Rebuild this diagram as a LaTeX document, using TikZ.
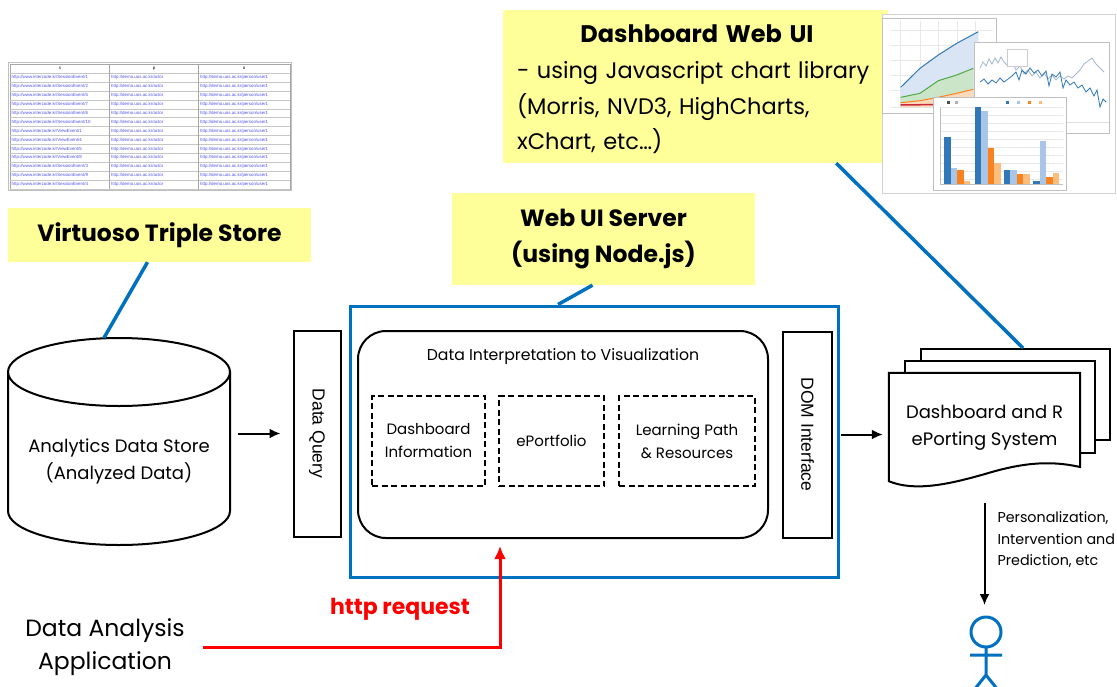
\documentclass[tikz,border=0pt]{standalone}
\usepackage{fontspec}
\setmainfont{Poppins}
\newfontfamily\boxfont{Liberation Sans}
\usetikzlibrary{calc, arrows.meta, positioning}

\definecolor{noteyellow}{RGB}{255,255,153}
\definecolor{uiblue}{RGB}{0,112,192}
\definecolor{linkblue}{RGB}{80,80,235}
\definecolor{c1}{RGB}{49,120,185}
\definecolor{c2}{RGB}{170,198,230}
\definecolor{c3}{RGB}{250,130,30}
\definecolor{c4}{RGB}{253,190,125}
\definecolor{cg}{RGB}{80,170,70}
\definecolor{cr}{RGB}{200,40,60}

\tikzset{note/.style={fill=noteyellow, inner sep=0pt, font=\bfseries\fontsize{23.5}{35.5}\selectfont, align=center},
        vbox/.style={draw, line width=2pt, minimum width=47pt, minimum height=206pt, font=\boxfont\fontsize{17.5}{20}\selectfont},
        dbox/.style={draw, line width=2pt, dash pattern=on 6pt off 3.5pt, minimum height=90pt, align=center, font=\fontsize{15}{23}\selectfont},
        arr/.style={-{Latex[length=11pt, width=10pt]}, line width=2pt},
        link/.style={uiblue, line width=3.5pt},
        page/.style={draw, line width=2pt, fill=white},
        txt/.style={align=center, font=\fontsize{18}{27}\selectfont},
        cell/.style={anchor=west, inner sep=0pt, text=linkblue, font=\boxfont\fontsize{4.4}{5}\selectfont}}

\begin{document}
\begin{tikzpicture}[x=1pt, y=-1pt]
  \useasboundingbox (0,0) rectangle (1117,686);

  % query result table
  \draw[gray!50, fill=white] (8,62) rectangle (291,190);
  \draw[gray!70] (10,64) rectangle (290,189);
  \foreach \k in {0,...,13}
    \draw[gray!45, line width=.8pt] (10,{73.3+8.9*\k}) -- (290,{73.3+8.9*\k});
  \foreach \x in {109.5,198.5}
    \draw[gray!70, line width=1pt] (\x,64) -- (\x,189);
  \foreach \h/\x [count=\i] in {s/60, p/154, o/244}
    \node[inner sep=0pt, font=\boxfont\fontsize{4.4}{5}\selectfont] (hd\i) at (\x,68.7) {\h};
  \foreach \e/\n [count=\i] in {Session/1, Session/2, Session/5, Session/7, Session/6, Session/10, View/1, View/4, View/5, View/8, Session/3, Session/9, Session/4} {
    \node[cell] (sc\i) at (11.5,{73.3+8.9*\i-4.45}) {http://www.intercode.kr/\e Event/\n};
    \node[cell] (pc\i) at (111,{73.3+8.9*\i-4.45}) {http://demo.uos.ac.kr/actor};
    \node[cell] (oc\i) at (200,{73.3+8.9*\i-4.45}) {http://demo.uos.ac.kr/person/user1};
  }

  % data store
  \node[note, minimum width=303, minimum height=54] (triple) at (159.5,235) {Virtuoso Triple Store};
  \node[minimum width=222, minimum height=207, inner sep=0pt] (store) at (119,441.5) {};
  \draw[line width=2pt, fill=white] (8,372) -- (8,511) arc[start angle=180, end angle=0, x radius=111, y radius=34] -- (230,372);
  \draw[line width=2pt] (119,372) ellipse[x radius=111, y radius=34];
  \node[txt] (storetxt) at (119,461) {Analytics Data Store\\(Analyzed Data)};
  \draw[link] ([xshift=-12pt]triple.south) -- ([xshift=-15pt]store.north);

  \node[vbox] (query) at (317,433.5) {\rotatebox{-90}{Data Query}};
  \draw[arr, shorten <=8pt, shorten >=12pt] (store.east |- query.west) -- (query.west);

  % web ui server
  \node[note, minimum width=303, minimum height=92] (websrv) at (603.5,239) {Web UI Server\\(using Node.js)};
  \node[draw=uiblue, line width=3pt, minimum width=488, minimum height=271] (srv) at (594,441.5) {};
  \draw[link] ([xshift=-11pt]websrv.south) -- ([xshift=-36pt]srv.north);

  \node[draw, line width=2pt, rounded corners=28pt, minimum width=410, minimum height=207] (interp) at (563,434.5) {};
  \node[font=\fontsize{15.7}{18}\selectfont] (interptitle) at (563,357) {Data Interpretation to Visualization};
  \node[dbox, minimum width=113] (dashinfo) at (428.5,441) {Dashboard\\Information};
  \node[dbox, minimum width=105] (portfolio) at (551.5,441) {ePortfolio};
  \node[dbox, minimum width=136] (learning) at (687,441) {Learning Path\\\& Resources};

  \node[vbox, minimum width=49] (dom) at (807.5,434.5) {\rotatebox{-90}{DOM Interface}};

  % report pages
  \node[page, minimum width=189, minimum height=91] (pageC) at (1015.5,394.5) {};
  \node[page, minimum width=190, minimum height=92] (pageB) at (1000,407) {};
  \node[minimum width=191, minimum height=108, inner sep=0pt] (doc) at (984.5,427) {};
  \draw[line width=2pt, fill=white] (doc.south west) -- (doc.north west) -- (doc.north east) -- (1080,467) .. controls (1045,459) and (1015,465) .. (985,474) .. controls (950,484) and (915,492) .. (doc.south west) -- cycle;
  \node[txt] (doctxt) at ([yshift=-1pt]doc.center) {Dashboard and R\\ePorting System};
  \draw[arr, shorten <=8pt, shorten >=6pt] (dom.east) -- (dom.east -| doc.west);

  % dashboard web ui
  \node[note, minimum width=385, minimum height=153] (dashui) at (695.5,86.5) {};
  \node[align=left, text width=360, inner sep=0pt, font=\fontsize{22.5}{35.7}\selectfont] (dashtxt) at (697,89.5)
    {\hfill{\fontsize{24}{30}\selectfont\bfseries Dashboard Web UI}\hfill\null\\- using Javascript chart library\\(Morris, NVD3, HighCharts,\\xChart, etc…)};

  % chart snapshots
  \draw[gray!35, fill=white] (882,14) rectangle (1115,193);
  \draw[gray!50, fill=white, line width=1pt] (882,18) rectangle (996,113);
  \foreach \x in {900,920,938,957,975}
    \draw[gray!18] (\x,21) -- (\x,107);
  \foreach \y in {30,45,60,75,90,107}
    \draw[gray!18] (890,\y) -- (993,\y);
  \fill[c2!45] (900.7,107) -- (900.7,87.3) -- (920,68.3) -- (938.3,55) -- (956.7,43.3) -- (978.3,31.7) -- (978.3,107) -- cycle;
  \fill[cg!30] (900.7,107) -- (900.7,97.3) -- (920,93.3) -- (938.3,80.7) -- (956.7,75) -- (973.3,68.3) -- (973.3,107) -- cycle;
  \fill[c3!30] (900.7,107) -- (900.7,102.7) -- (920,100.7) -- (938.3,97.3) -- (956.7,93.3) -- (973.3,89.3) -- (973.3,107) -- cycle;
  \draw[c1, line width=1pt] (900.7,87.3) -- (920,68.3) -- (938.3,55) -- (956.7,43.3) -- (978.3,31.7);
  \draw[cg, line width=1pt] (900.7,97.3) -- (920,93.3) -- (938.3,80.7) -- (956.7,75) -- (973.3,68.3);
  \draw[c3, line width=1pt] (900.7,102.7) -- (920,100.7) -- (938.3,97.3) -- (956.7,93.3) -- (973.3,89.3);
  \draw[cr, line width=1.5pt] (900.7,105) -- (940,104.5);

  \draw[gray!50, fill=white, line width=1pt] (974,42) rectangle (1109,133);
  \draw[c2!80!gray, line width=.8pt] (980,68) -- (983,62) -- (986,66) -- (989,59) -- (992,64) -- (995,58) -- (998,63) -- (1001,57) -- (1004,62) -- (1008,66) -- (1012,61) -- (1016,70) -- (1020,66) -- (1024,74) -- (1028,70) -- (1032,76) -- (1036,72) -- (1040,78) -- (1044,73) -- (1048,79) -- (1052,75) -- (1056,80) -- (1060,76) -- (1064,79) -- (1068,76) -- (1072,78) -- (1076,74) -- (1080,70) -- (1084,64) -- (1088,61) -- (1092,58) -- (1096,64) -- (1100,68) -- (1104,72);
  \draw[c1, line width=.8pt] (980,82) -- (984,79) -- (988,84) -- (992,80) -- (996,83) -- (1000,78) -- (1004,82) -- (1008,79) -- (1012,76) -- (1016,72) -- (1019,80) -- (1022,70) -- (1026,74) -- (1030,68) -- (1034,73) -- (1038,70) -- (1042,76) -- (1046,71) -- (1049,86) -- (1052,74) -- (1056,77) -- (1060,72) -- (1063,88) -- (1066,80) -- (1070,85) -- (1074,82) -- (1078,88) -- (1082,85) -- (1086,92) -- (1090,88) -- (1094,96) -- (1097,90) -- (1100,107) -- (1103,99) -- (1106,102);
  \draw[gray!40, fill=white] (1007,49) rectangle (1027,66);
  \draw[gray!25] (974,122) -- (1109,122);

  \draw[gray!50, fill=white, line width=1pt] (933,97) rectangle (1066,190);
  \foreach \y in {107,115,123,131,139,147,155,163,171,179}
    \draw[gray!18] (940,\y) -- (1063,\y);
  \draw[gray!50] (940,107) -- (940,184) -- (1063,184);
  \foreach \x/\c in {947/black!70, 955/gray!60, 1006/c1, 1017/c2, 1028/c3, 1039/c4}
    \fill[\c] (\x,100.5) rectangle ++(3,3);
  \foreach \g/\a/\b/\c/\d in {944/137/168/170/181, 974.5/107/111/148/163, 1003.5/170/170/174/174, 1033/181/141/177/173} {
    \fill[c1] (\g,\a) rectangle ({\g+6.5},184);
    \fill[c2] ({\g+6.5},\b) rectangle ({\g+13},184);
    \fill[c3] ({\g+13},\c) rectangle ({\g+19.5},184);
    \fill[c4] ({\g+19.5},\d) rectangle ({\g+26},184);
  }

  \draw[link] ([xshift=-52pt]dashui.south east) -- ([xshift=7.5pt]pageC.north);

  % user
  \coordinate (user) at (986,617);
  \draw[arr, shorten <=22pt, shorten >=12pt] (doc.south) -- (doc.south |- user);
  \node[anchor=west, align=left, font=\fontsize{14.3}{21.5}\selectfont] (personal) at (994,540) {Personalization,\\Intervention and\\Prediction, etc};
  \draw[uiblue, line width=3pt] (986,632) circle[radius=15];
  \draw[uiblue, line width=3pt] (986,647) -- (986,676) (970,655) -- (1002,655) (986,675) -- (974,690) (986,675) -- (998,690);

  % analysis application
  \node[txt, font=\fontsize{23.5}{33}\selectfont] (app) at (105,647) {Data Analysis\\Application};
  \draw[red, line width=3pt, -{Latex[length=13pt, width=12pt]}, shorten <=15pt, shorten >=7pt] (app.east) -| ([xshift=-63pt]interp.south);
  \node[text=red, font=\bfseries\fontsize{22}{25}\selectfont] (httplbl) at (400,609) {http request};
\end{tikzpicture}
\end{document}
